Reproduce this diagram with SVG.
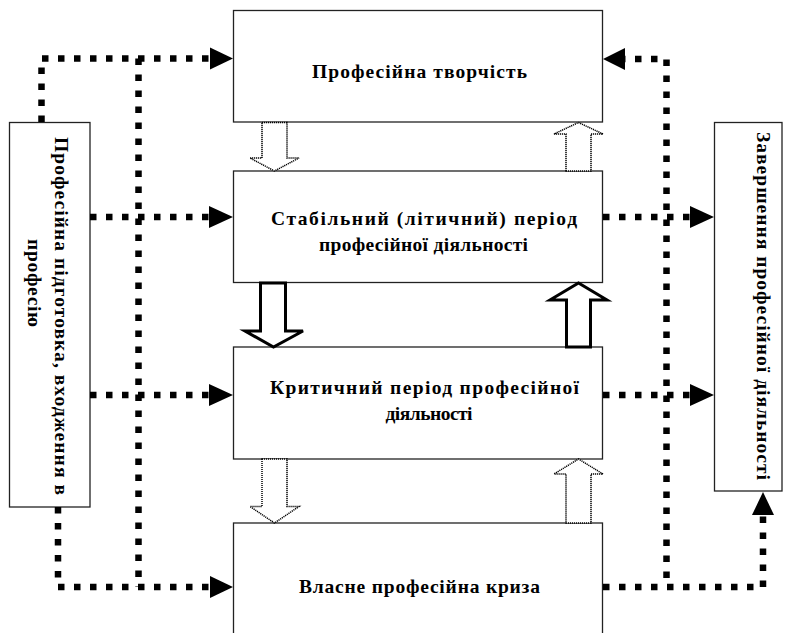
<svg xmlns="http://www.w3.org/2000/svg" width="789" height="633" viewBox="0 0 789 633">
<style>
.box{fill:#fff;stroke:#222;stroke-width:1.3}
.t{font-family:"Liberation Serif","Times New Roman",serif;font-weight:bold;font-size:19.5px;fill:#000;text-anchor:middle}
.dot{fill:none;stroke:#000;stroke-width:6.5;stroke-dasharray:6.5 9.5}
.head{fill:#000;stroke:none}
.hd{fill:#fff;stroke:#000;stroke-width:1.5;stroke-dasharray:1.2 0.8}
.hs{fill:#fff;stroke:#000;stroke-width:3;stroke-linejoin:miter}
</style>
<rect width="789" height="633" fill="#fff"/>
<g id="n1"><rect class="box" x="233.5" y="10.5" width="369" height="111.5"/><text class="t" x="419.5" y="78" textLength="215" lengthAdjust="spacing">Професійна творчість</text></g>
<g id="n2"><rect class="box" x="233.5" y="171" width="369" height="111.5"/><text class="t" x="424" y="225" textLength="306" lengthAdjust="spacing">Стабільний (літичний) період</text><text class="t" x="423.5" y="251" textLength="209" lengthAdjust="spacing">професійної діяльності</text></g>
<g id="n3"><rect class="box" x="233.5" y="347" width="369" height="112"/><text class="t" x="424.5" y="394" textLength="309" lengthAdjust="spacing">Критичний період професійної</text><text class="t" x="429" y="420" textLength="87" lengthAdjust="spacing">діяльності</text></g>
<g id="n4"><rect class="box" x="233.5" y="523" width="369" height="120"/><text class="t" x="419.5" y="593" textLength="241" lengthAdjust="spacing">Власне професійна криза</text></g>
<g id="n5"><rect class="box" x="9.5" y="122.5" width="80.5" height="384.5"/><text class="t" transform="translate(55,316) rotate(90)" textLength="358" lengthAdjust="spacing">Професійна підготовка, входження в</text><text class="t" transform="translate(28,283) rotate(90)" textLength="88" lengthAdjust="spacing">професію</text></g>
<g id="n6"><rect class="box" x="714.5" y="122.5" width="67.5" height="368.5"/><text class="t" transform="translate(757,306) rotate(90)" textLength="348" lengthAdjust="spacing">Завершення професійної діяльності</text></g>
<g id="connectors">
<path class="dot" d="M41.5,122 V58.5 H211"/>
<polygon class="head" points="210,47.5 233,58.5 210,69.5"/>
<path class="dot" d="M138.5,58.5 V587"/>
<path class="dot" d="M58,507 V587 H211"/>
<polygon class="head" points="210,576 233,587 210,598"/>
<path class="dot" d="M90,217 H211"/>
<polygon class="head" points="209,206 233,217 209,228"/>
<path class="dot" d="M90,395 H211"/>
<polygon class="head" points="209,384 233,395 209,406"/>
<path class="dot" d="M603,217 H691"/>
<polygon class="head" points="690,206 714,217 690,228"/>
<path class="dot" d="M603,395 H691"/>
<polygon class="head" points="690,384 714,395 690,406"/>
<path class="dot" d="M666.5,578 V59 H624"/>
<polygon class="head" points="625,48 603,59 625,70"/>
<path class="dot" d="M603,587 H763 V514"/>
<polygon class="head" points="752,515 763,492 774,515"/>
<polygon class="hd" points="262,122.5 287,122.5 287,158 299,158 274.5,171 250,158 262,158"/>
<polygon class="hd" points="566,171 591,171 591,134 603,134 578.5,122.5 554,134 566,134"/>
<polygon class="hs" points="260.5,283 285.5,283 285.5,331 303,331 273.5,347 245,331 260.5,331"/>
<polygon class="hs" points="566.5,347 590.5,347 590.5,300 607,300 578.5,283 550,300 566.5,300"/>
<polygon class="hd" points="262,459 287,459 287,506.5 299,506.5 274.5,523 250,506.5 262,506.5"/>
<polygon class="hd" points="566,523 591,523 591,474 603,474 578.5,459 554,474 566,474"/>
</g>
</svg>
